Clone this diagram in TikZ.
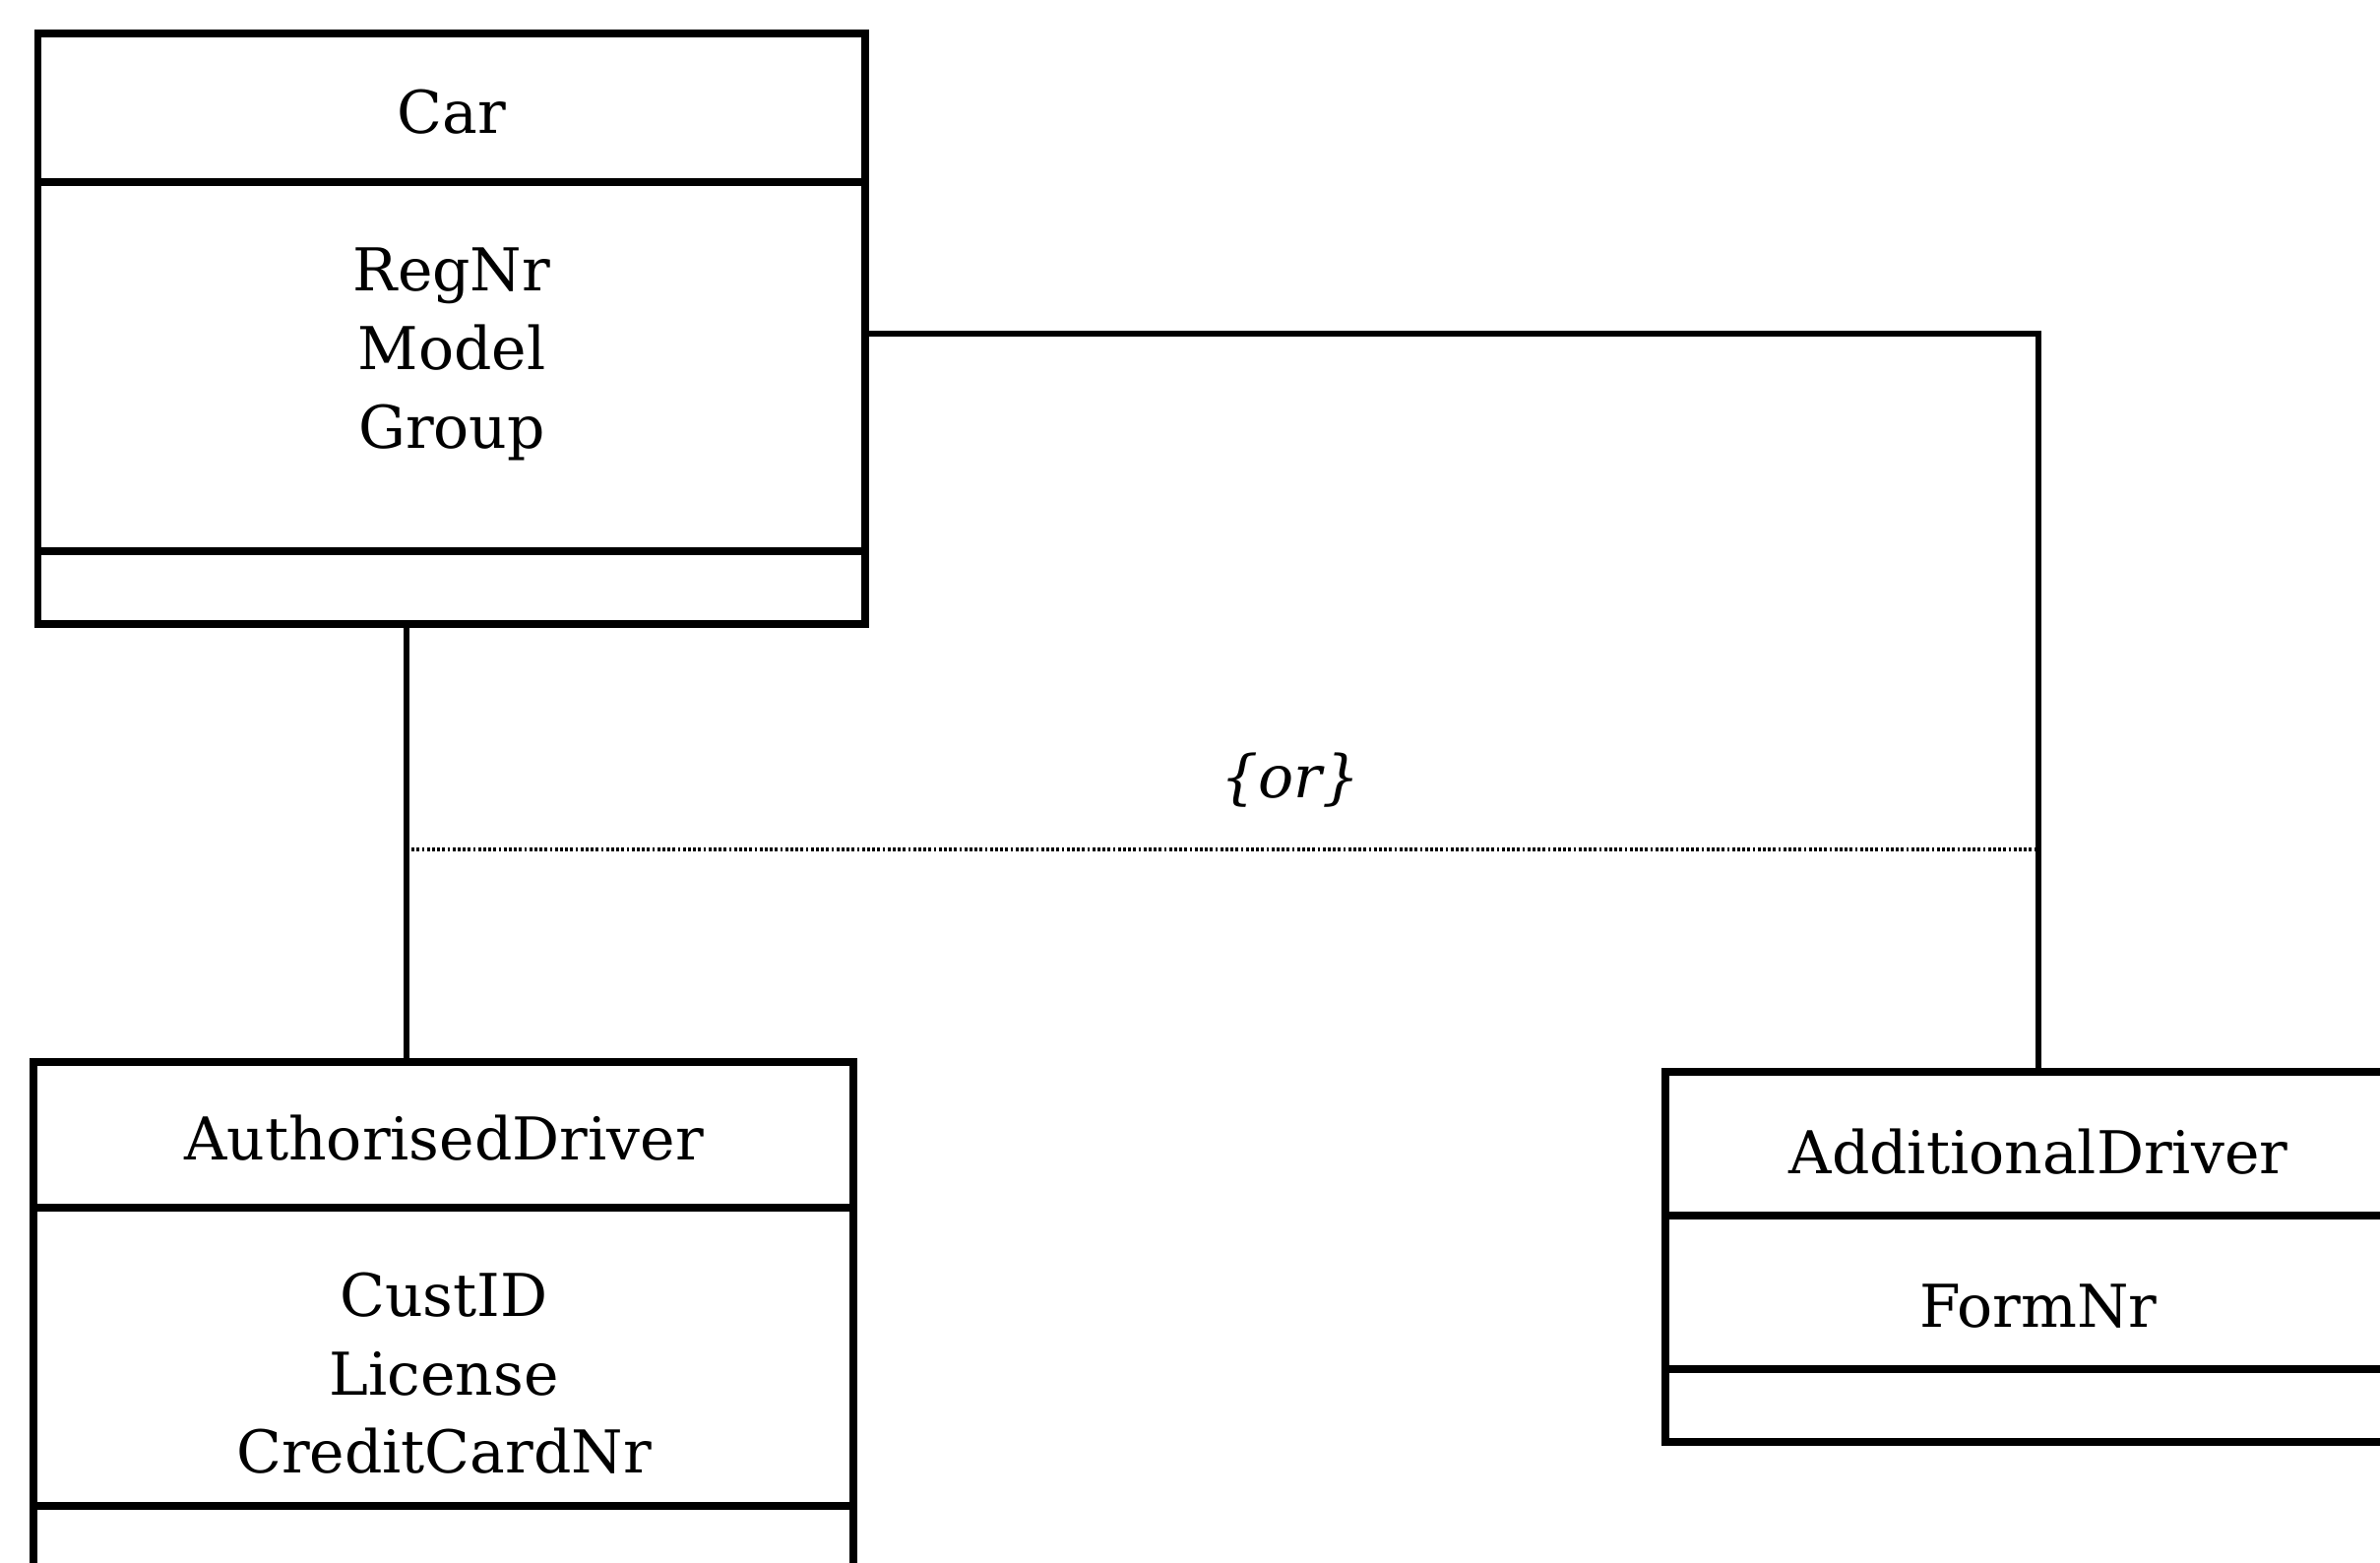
\documentclass[tikz,border=0pt]{standalone}
\usepackage{fontspec}
\setmainfont{DejaVu Serif}
\usetikzlibrary{fit}
\tikzset{
  classbox/.style={draw=drawColor, line width=1.8pt, inner sep=0pt, outer sep=0pt},
  compline/.style={draw=drawColor, line width=1.8pt},
  classtext/.style={text=drawColor, anchor=base, inner sep=0pt, outer sep=0pt, font=\fontsize{15}{20}\selectfont},
  assoc/.style={draw=drawColor, line width=1.4pt},
  orline/.style={draw=drawColor, line width=1.2pt, dash pattern=on 0.7pt off 0.6pt},
}
\begin{document}
\begin{tikzpicture}[x=0.25pt,y=0.25pt]
\definecolor{drawColor}{RGB}{0,0,0}
\definecolor{fillColor}{RGB}{255,255,255}
\path[use as bounding box,fill=fillColor] (0,0) rectangle (2418,1587);
\begin{scope}
\path[clip] (0,0) rectangle (2418,1587);

% class boxes
\node[classbox, fit={(38.5,953) (879,1553)}] (car) {};
\node[classbox, fit={(34,-20) (867,508)}] (auth) {};
\node[classbox, fit={(1692,122) (2450,498)}] (addl) {};

% compartment lines
\coordinate (car-h) at (0,1402);
\coordinate (car-o) at (0,1027);
\coordinate (auth-h) at (0,360);
\coordinate (auth-o) at (0,57);
\coordinate (addl-h) at (0,352);
\coordinate (addl-o) at (0,196);
\foreach \cls in {car,auth,addl}{
  \draw[compline] (\cls.west |- \cls-h) -- (\cls.east |- \cls-h);
  \draw[compline] (\cls.west |- \cls-o) -- (\cls.east |- \cls-o);
}

% names and attributes
\node[classtext] (car-name) at (459,1451) {Car};
\node[classtext] (car-a1) at (459,1291) {RegNr};
\node[classtext] (car-a2) at (459,1211) {Model};
\node[classtext] (car-a3) at (459,1131) {Group};

\node[classtext] (auth-name) at (451,409) {AuthorisedDriver};
\node[classtext] (auth-a1) at (451,250) {CustID};
\node[classtext] (auth-a2) at (451,170) {License};
\node[classtext] (auth-a3) at (451,91) {CreditCardNr};

\node[classtext] (addl-name) at (2071,395) {AdditionalDriver};
\node[classtext] (addl-a1) at (2071,239) {FormNr};

% associations
\coordinate (bend) at (2071,1248);
\coordinate (drop) at (413,0);
\draw[assoc] (car.east |- bend) -- (bend) -- (addl.north -| bend);
\draw[assoc] (car.south -| drop) -- (auth.north -| drop);

% or-constraint
\coordinate (or-l) at (413,724);
\coordinate (or-r) at (2071,724);
\draw[orline] (or-l) -- (or-r);
\node[classtext, font=\fontsize{15}{20}\selectfont\itshape] (or-label) at (1311,777) {\{or\}};
\end{scope}
\end{tikzpicture}
\end{document}
